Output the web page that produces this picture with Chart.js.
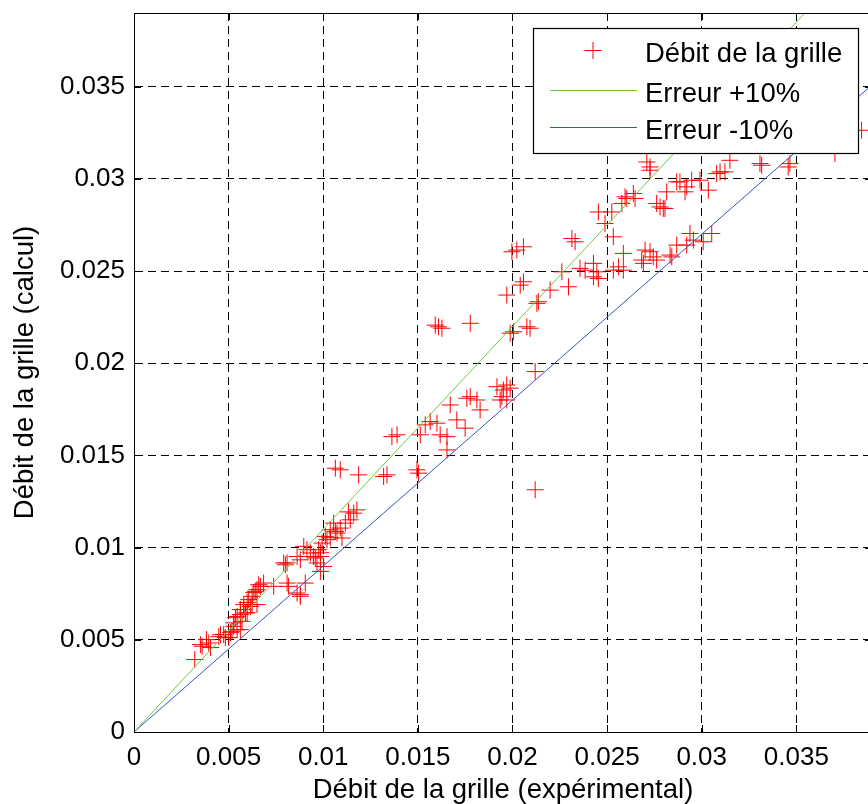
<!DOCTYPE html>
<html>
<head>
<meta charset="utf-8">
<script src="https://cdn.jsdelivr.net/npm/chart.js@4/dist/chart.umd.min.js"></script>
<style>
html,body{margin:0;padding:0;background:#fff;overflow:hidden;width:868px;height:804px;}
#wrap{position:absolute;left:0;top:0;width:872px;height:804px;}
</style>
</head>
<body>
<div id="wrap"><canvas id="c" width="872" height="804"></canvas></div>
<script>
// ---- data ----
const measuredX = [
0.00321,0.00351,0.00383,0.00404,0.00448,0.00474,0.00501,0.00518,0.00545,0.00536,
0.00562,0.00580,0.00598,0.00606,0.00624,0.00633,0.00650,0.00668,0.00685,0.00650,
0.00615,0.00598,0.00571,0.00527,0.00510,0.00738,0.00809,0.00879,0.00905,0.00800,
0.00879,0.00948,0.00985,0.00967,0.00360,0.00395,0.00457,0.00483,0.00527,0.00562,
0.00545,0.00562,0.00580,0.00641,0.00659,0.00624,0.00589,0.00791,0.00862,0.00897,
0.00932,0.00958,0.00976,0.00985,0.00817,0.00862,0.01037,0.01055,0.01073,0.01011,
0.01390,0.01363,0.01064,0.01090,0.01187,0.01337,0.01319,0.01178,0.01161,0.01143,
0.01117,0.01090,0.01064,0.01099,0.01020,0.00994,0.00914,0.00985,0.01002,0.00809,
0.00879,0.01133,0.01037,0.01592,0.01609,0.01627,0.01777,0.01988,0.02005,0.02076,
0.02093,0.02137,0.02120,0.01970,0.01988,0.01952,0.01918,0.01944,0.01970,0.01935,
0.01777,0.01759,0.01812,0.01829,0.01671,0.01601,0.01565,0.01539,0.01706,0.01750,
0.01618,0.01654,0.01513,0.01654,0.01495,0.01504,0.02120,0.02058,0.02023,0.01997,
0.02314,0.02331,0.02454,0.02525,0.02578,0.02604,0.02648,0.02489,0.02533,0.02815,
0.02762,0.02797,0.02727,0.02868,0.02586,0.02560,0.02533,0.02586,0.02701,0.02727,
0.02744,0.02683,0.02833,0.02868,0.02357,0.02384,0.02428,0.02446,0.02428,0.02454,
0.02261,0.02296,0.02199,0.02129,0.02058,0.02041,0.01970,0.02727,0.03149,0.03123,
0.03317,0.03457,0.03466,0.03704,0.03845,0.02885,0.02921,0.02947,0.02912,0.02991,
0.03035,0.03097,0.02780,0.02806,0.02938,0.02956,0.03053,0.03008,0.02921,0.02762,
0.02842,0.02692,0.02710,0.02595,0.02639,0.03079,0.03308
];
const calculatedY = [
0.00393,0.00474,0.00501,0.00458,0.00517,0.00528,0.00512,0.00546,0.00555,0.00620,
0.00637,0.00664,0.00702,0.00718,0.00736,0.00756,0.00772,0.00790,0.00808,0.00691,
0.00681,0.00647,0.00600,0.00592,0.00539,0.00790,0.00808,0.00736,0.00808,0.00907,
0.00934,0.00952,0.00972,0.00917,0.00465,0.00483,0.00528,0.00512,0.00573,0.00555,
0.00627,0.00664,0.00691,0.00763,0.00799,0.00691,0.00646,0.00917,0.00952,0.01007,
0.00971,0.00944,0.00989,0.00871,0.00790,0.00754,0.01097,0.01133,0.01079,0.01061,
0.01612,0.01602,0.01431,0.01422,0.01395,0.01395,0.01386,0.01205,0.01187,0.01151,
0.01133,0.01106,0.01088,0.01052,0.01043,0.01025,0.00989,0.00952,0.00898,0.00917,
0.00745,0.01194,0.01054,0.02207,0.02198,0.02190,0.02217,0.02163,0.02171,0.02198,
0.02190,0.02334,0.01955,0.01882,0.01865,0.01855,0.01873,0.01819,0.01801,0.01801,
0.01819,0.01810,0.01801,0.01747,0.01774,0.01675,0.01684,0.01666,0.01693,0.01648,
0.01612,0.01602,0.01612,0.01530,0.01422,0.01404,0.01314,0.02632,0.02614,0.02605,
0.02677,0.02659,0.02821,0.02821,0.02867,0.02894,0.02894,0.02758,0.02686,0.02930,
0.02867,0.02840,0.03047,0.02984,0.02596,0.02523,0.02505,0.02505,0.02614,0.02605,
0.02577,0.02560,0.02587,0.02641,0.02515,0.02505,0.02542,0.02496,0.02469,0.02460,
0.02496,0.02415,0.02397,0.02325,0.02442,0.02424,0.02370,0.03065,0.03101,0.03038,
0.03074,0.03065,0.03083,0.03138,0.03264,0.02984,0.02957,0.02993,0.02930,0.02993,
0.02939,0.03038,0.02848,0.02840,0.02704,0.02668,0.02704,0.02659,0.02641,0.02560,
0.02577,0.02542,0.03092,0.02903,0.02921,0.03029,0.03083
];
const plusErrX  = [0, 0.040];
const plusErrY  = [0, 0.044];
const minusErrX = [0, 0.045];
const minusErrY = [0, 0.0405];

const xTicks = [0, 0.005, 0.01, 0.015, 0.02, 0.025, 0.03, 0.035];
const xTickLabels = ['0','0.005','0.01','0.015','0.02','0.025','0.03','0.035'];
const yTicks = [0, 0.005, 0.01, 0.015, 0.02, 0.025, 0.03, 0.035];
const yTickLabels = ['0','0.005','0.01','0.015','0.02','0.025','0.03','0.035'];

const seriesNames = ['Débit de la grille', 'Erreur +10%', 'Erreur -10%'];
const xTitle = 'Débit de la grille (expérimental)';
const yTitle = 'Débit de la grille (calcul)';

// ---- styling ----
const FONT = '"Liberation Sans", Arial, Helvetica, sans-serif';
const RED = '#ff0000';
const GREEN = 'rgb(110,200,70)';
const BLUE = 'rgb(55,85,190)';

function pairs(xs, ys){ return xs.map((x,i)=>({x:x, y:ys[i]})); }
function noPad(s){ s.paddingTop = 0; s.paddingBottom = 0; s.paddingLeft = 0; s.paddingRight = 0; }

const frameAndTicks = {
  id:'frameAndTicks',
  afterDatasetsDraw(chart){
    const {ctx, chartArea:a, scales} = chart;
    ctx.save();
    ctx.strokeStyle = '#000';
    ctx.lineWidth = 1;
    ctx.beginPath();
    const top = Math.round(a.top)+0.5, right = Math.round(a.right)-0.5;
    ctx.moveTo(a.left, top); ctx.lineTo(a.right, top);
    ctx.moveTo(right, a.top); ctx.lineTo(right, a.bottom);
    const L = 7;
    xTicks.forEach(v=>{
      const px = Math.round(scales.x.getPixelForValue(v))+0.5;
      ctx.moveTo(px, a.bottom); ctx.lineTo(px, a.bottom-L);
      ctx.moveTo(px, a.top); ctx.lineTo(px, a.top+L);
    });
    yTicks.forEach(v=>{
      const py = Math.round(scales.y.getPixelForValue(v))+0.5;
      ctx.moveTo(a.left, py); ctx.lineTo(a.left+L, py);
      ctx.moveTo(a.right, py); ctx.lineTo(a.right-L, py);
    });
    ctx.stroke();
    ctx.restore();
  }
};

const boxLegend = {
  id:'boxLegend',
  afterDraw(chart){
    const ctx = chart.ctx;
    ctx.save();
    const x0 = 533, y0 = 28, x1 = 859, y1 = 154;
    ctx.fillStyle = '#fff';
    ctx.fillRect(x0, y0, x1-x0, y1-y0);
    ctx.strokeStyle = '#000';
    ctx.lineWidth = 1.2;
    ctx.strokeRect(x0+0.5, y0+0.5, x1-x0-1, y1-y0-1);
    const baselines = [61.5, 101.5, 138.5];
    ctx.font = '27.5px ' + FONT;
    ctx.textBaseline = 'alphabetic';
    ctx.textAlign = 'left';
    chart.data.datasets.forEach((ds, i)=>{
      const base = baselines[i];
      const my = base - 11;
      ctx.lineWidth = 1;
      ctx.strokeStyle = ds.borderColor;
      ctx.beginPath();
      if (i === 0) {
        const cx = 593, r = 8.5;
        ctx.moveTo(cx - r, my); ctx.lineTo(cx + r, my);
        ctx.moveTo(cx, my - r); ctx.lineTo(cx, my + r);
      } else {
        ctx.moveTo(550, my); ctx.lineTo(637, my);
      }
      ctx.stroke();
      ctx.fillStyle = '#000';
      ctx.fillText(ds.label, 645, base);
    });
    ctx.restore();
  }
};

new Chart(document.getElementById('c').getContext('2d'), {
  type: 'scatter',
  data: {
    datasets: [
      {
        label: seriesNames[0],
        data: pairs(measuredX, calculatedY),
        showLine: false,
        pointStyle: 'cross',
        pointRadius: 8.5,
        pointBorderWidth: 1,
        borderColor: RED,
        backgroundColor: RED,
        order: 3
      },
      {
        label: seriesNames[1],
        type: 'line',
        data: pairs(plusErrX, plusErrY),
        borderColor: GREEN,
        borderWidth: 1,
        pointRadius: 0,
        fill: false,
        order: 1
      },
      {
        label: seriesNames[2],
        type: 'line',
        data: pairs(minusErrX, minusErrY),
        borderColor: BLUE,
        borderWidth: 1,
        pointRadius: 0,
        fill: false,
        order: 2
      }
    ]
  },
  options: {
    responsive: false,
    animation: false,
    events: [],
    layout: { autoPadding: false, padding: { top: 13, right: 0, bottom: 0, left: 0 } },
    plugins: { legend: { display: false }, tooltip: { enabled: false } },
    scales: {
      x: {
        type: 'linear',
        min: 0, max: 0.039,
        afterFit(s){ s.height = 72; noPad(s); },
        afterBuildTicks(s){ s.ticks = xTicks.map(v=>({value:v})); },
        ticks: {
          autoSkip: false, maxRotation: 0, padding: 10, color: '#000',
          font: { family: FONT, size: 26 },
          callback: (v, i) => xTickLabels[i]
        },
        grid: { color: '#000', lineWidth: 1, drawTicks: false },
        border: { display: true, color: '#000', width: 1, dash: [8, 5] },
        title: {
          display: true, text: xTitle, color: '#000',
          font: { family: FONT, size: 27.5, lineHeight: 1 },
          padding: { top: 0, bottom: 0 }
        }
      },
      y: {
        type: 'linear',
        min: 0, max: 0.039,
        afterFit(s){ s.width = 134; noPad(s); },
        afterBuildTicks(s){ s.ticks = yTicks.map(v=>({value:v})); },
        ticks: {
          autoSkip: false, padding: 9, color: '#000',
          font: { family: FONT, size: 26 },
          callback: (v, i) => yTickLabels[i]
        },
        grid: { color: '#000', lineWidth: 1, drawTicks: false },
        border: { display: true, color: '#000', width: 1, dash: [8, 5] },
        title: {
          display: true, text: yTitle, color: '#000',
          font: { family: FONT, size: 27.5, lineHeight: 1 },
          padding: { top: 12, bottom: 0 }
        }
      }
    }
  },
  plugins: [frameAndTicks, boxLegend]
});
</script>
</body>
</html>
